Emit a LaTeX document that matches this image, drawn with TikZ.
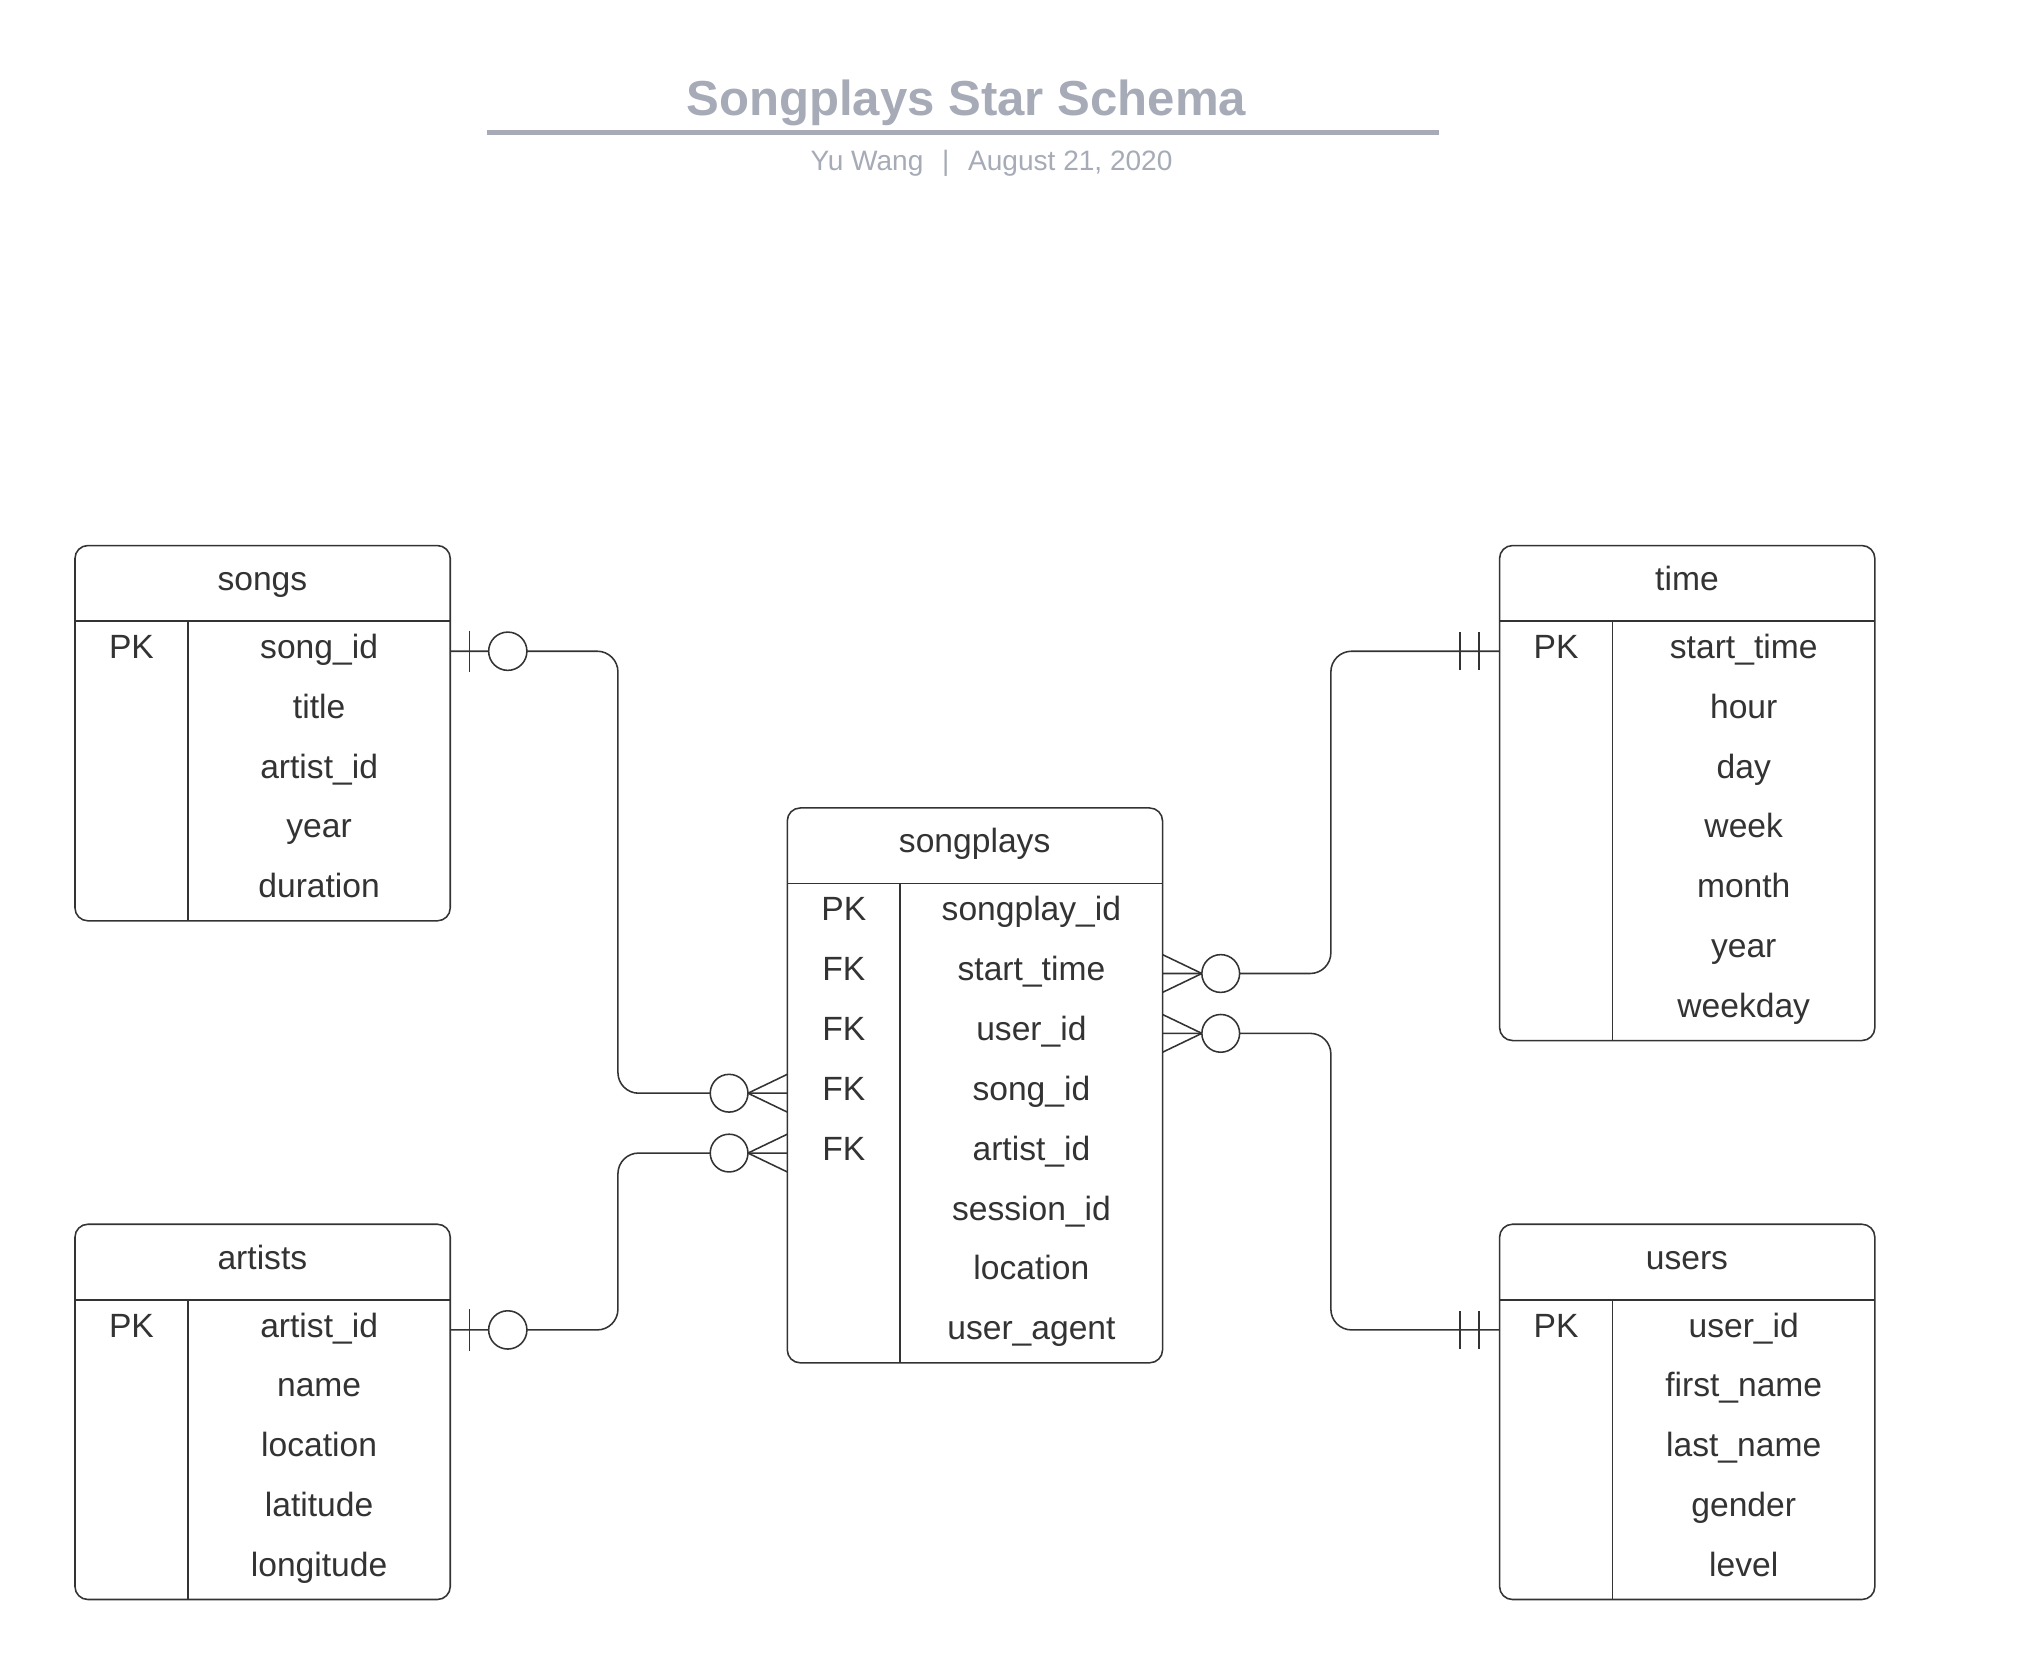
\documentclass[tikz,border=0pt]{standalone}
\usepackage{fontspec}
\setmainfont{Liberation Sans}
\usetikzlibrary{positioning}

\definecolor{ink}{RGB}{51,51,51}
\definecolor{titlegray}{RGB}{166,171,183}

\tikzset{
    link/.style={draw=ink, line width=1.2pt},
    tframe/.style={draw=ink, line width=1.2pt, rounded corners=10pt},
    cell/.style={anchor=north west, inner sep=0pt, text=ink,
        font=\fontsize{26}{31}\selectfont, text height=18.6pt, text depth=7.6pt},
    thead/.style={cell, minimum width=289.5pt, minimum height=58pt},
    keycell/.style={cell, minimum width=87pt, minimum height=46.3pt},
    fieldcell/.style={cell, minimum width=202.5pt, minimum height=46.3pt},
    % zero or many (crow's foot), tips on the table edge
    zeromany/.pic={
        \draw[link] (0,-14.6) -- (-30.4,0) -- (0,14.6);
        \draw[link, fill=white] (-45,0) circle (14.6);
    },
    % zero or one
    oneopt/.pic={
        \draw[link] (15,-16) -- (15,16);
        \draw[link, fill=white] (44.5,0) circle (14.8);
    },
    % exactly one
    oneone/.pic={
        \draw[link] (-30.6,-14.6) -- (-30.6,14.6);
        \draw[link] (-16,-14.6) -- (-16,14.6);
    }
}

\begin{document}
\begin{tikzpicture}[x=1pt, y=-1pt]
    \fill[white] (0,0) rectangle (1568,1294);
    \useasboundingbox (0,0) rectangle (1568,1294);

    % title
    \node[font=\fontsize{38}{46}\selectfont\bfseries, text=titlegray, anchor=base] (title) at (747.5,89) {Songplays Star Schema};
    \draw[draw=titlegray, line width=3.4pt] (377,102.6) -- (1113,102.6);
    \node[font=\fontsize{21.7}{26}\selectfont, text=titlegray, anchor=base] (byline) at (767,131.5) {Yu Wang\hspace{14.5pt}|\hspace{14.5pt}August 21, 2020};

    % songs
    \node[thead] (songs) at (58,422) {songs};
    \foreach \k/\f [count=\i] in {PK/song\_id, /title, /artist\_id, /year, /duration} {
        \node[keycell] (songs-k\i) at ([yshift={-46.3*(\i-1)}]songs.south west) {\k};
        \node[fieldcell] (songs-\i) at (songs-k\i.north east) {\f};
    }
    \draw[tframe] (songs.north west) rectangle (songs-5.south east);
    \draw[link] (songs.south west) -- (songs.south east);
    \draw[link] (songs-k1.north east) -- (songs-k5.south east);

    % artists
    \node[thead] (artists) at (58,947) {artists};
    \foreach \k/\f [count=\i] in {PK/artist\_id, /name, /location, /latitude, /longitude} {
        \node[keycell] (artists-k\i) at ([yshift={-46.3*(\i-1)}]artists.south west) {\k};
        \node[fieldcell] (artists-\i) at (artists-k\i.north east) {\f};
    }
    \draw[tframe] (artists.north west) rectangle (artists-5.south east);
    \draw[link] (artists.south west) -- (artists.south east);
    \draw[link] (artists-k1.north east) -- (artists-k5.south east);

    % songplays
    \node[thead] (songplays) at (609,625) {songplays};
    \foreach \k/\f [count=\i] in {PK/songplay\_id, FK/start\_time, FK/user\_id, FK/song\_id, FK/artist\_id, /session\_id, /location, /user\_agent} {
        \node[keycell] (songplays-k\i) at ([yshift={-46.3*(\i-1)}]songplays.south west) {\k};
        \node[fieldcell] (songplays-\i) at (songplays-k\i.north east) {\f};
    }
    \draw[tframe] (songplays.north west) rectangle (songplays-8.south east);
    \draw[link] (songplays.south west) -- (songplays.south east);
    \draw[link] (songplays-k1.north east) -- (songplays-k8.south east);

    % time
    \node[thead] (time) at (1160,422) {time};
    \foreach \k/\f [count=\i] in {PK/start\_time, /hour, /day, /week, /month, /year, /weekday} {
        \node[keycell] (time-k\i) at ([yshift={-46.3*(\i-1)}]time.south west) {\k};
        \node[fieldcell] (time-\i) at (time-k\i.north east) {\f};
    }
    \draw[tframe] (time.north west) rectangle (time-7.south east);
    \draw[link] (time.south west) -- (time.south east);
    \draw[link] (time-k1.north east) -- (time-k7.south east);

    % users
    \node[thead] (users) at (1160,947) {users};
    \foreach \k/\f [count=\i] in {PK/user\_id, /first\_name, /last\_name, /gender, /level} {
        \node[keycell] (users-k\i) at ([yshift={-46.3*(\i-1)}]users.south west) {\k};
        \node[fieldcell] (users-\i) at (users-k\i.north east) {\f};
    }
    \draw[tframe] (users.north west) rectangle (users-5.south east);
    \draw[link] (users.south west) -- (users.south east);
    \draw[link] (users-k1.north east) -- (users-k5.south east);

    % relations
    \coordinate (lbus) at (478,0);
    \coordinate (rbus) at (1029.5,0);
    \draw[link, rounded corners=16pt] (songs-1.east) -| (lbus |- songplays-k4.west) -- (songplays-k4.west);
    \draw[link, rounded corners=16pt] (artists-1.east) -| (lbus |- songplays-k5.west) -- (songplays-k5.west);
    \draw[link, rounded corners=16pt] (songplays-2.east) -| (rbus |- time-k1.west) -- (time-k1.west);
    \draw[link, rounded corners=16pt] (songplays-3.east) -| (rbus |- users-k1.west) -- (users-k1.west);

    \pic at (songs-1.east) {oneopt};
    \pic at (artists-1.east) {oneopt};
    \pic at (songplays-k4.west) {zeromany};
    \pic at (songplays-k5.west) {zeromany};
    \pic[rotate=180] at (songplays-2.east) {zeromany};
    \pic[rotate=180] at (songplays-3.east) {zeromany};
    \pic at (time-k1.west) {oneone};
    \pic at (users-k1.west) {oneone};
\end{tikzpicture}
\end{document}
